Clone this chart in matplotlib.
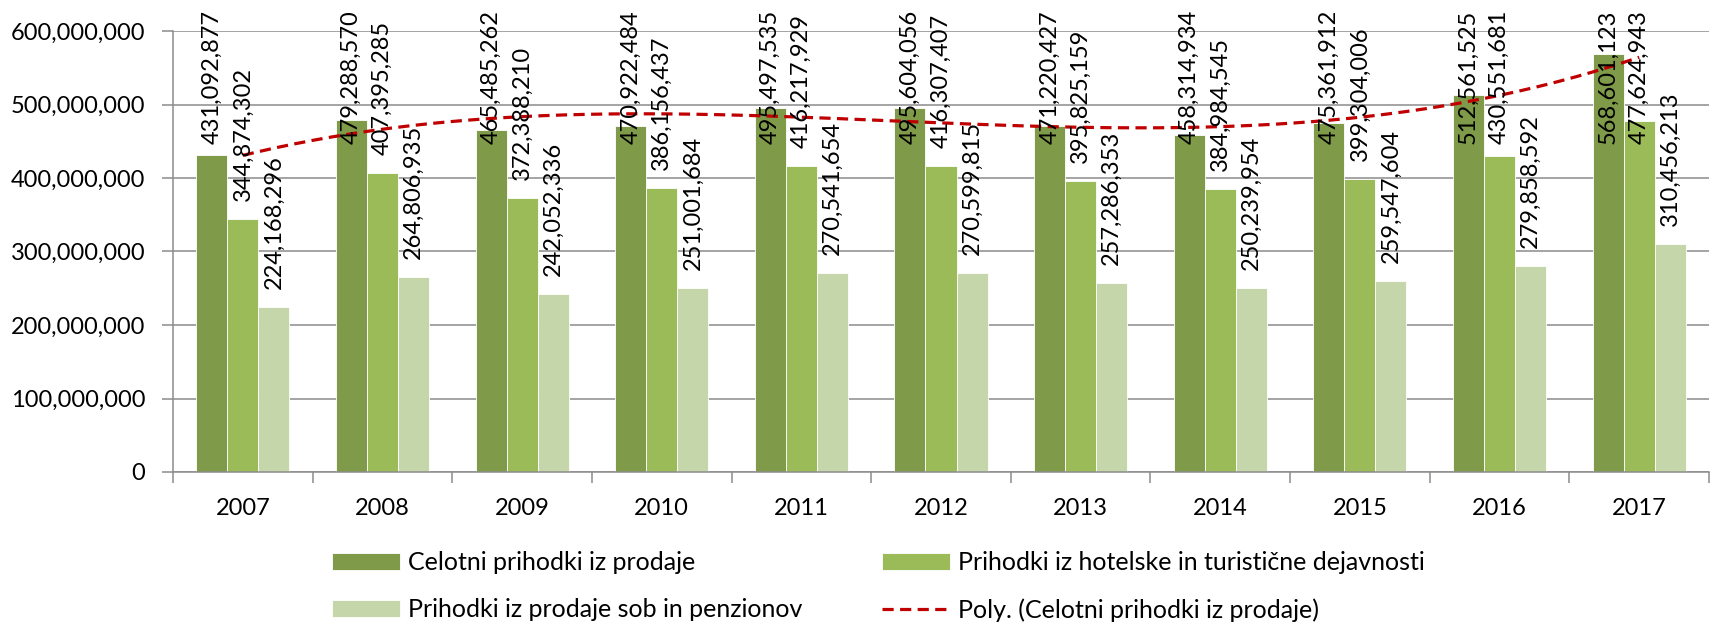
import numpy as np
import matplotlib
matplotlib.use('Agg')
import matplotlib.pyplot as plt
from matplotlib.ticker import FuncFormatter, MultipleLocator, FixedLocator

plt.rcParams['font.family'] = ['Lato', 'DejaVu Sans']

years = ['2007', '2008', '2009', '2010', '2011', '2012', '2013', '2014', '2015', '2016', '2017']
celotni = [431092877, 479288570, 465485262, 470922484, 495497535, 495604056,
           471220427, 458314934, 475361912, 512561525, 568601123]
hotelske = [344874302, 407395285, 372388210, 386156437, 416217929, 416307407,
            395825159, 384984545, 399304006, 430551681, 477624943]
sobe = [224168296, 264806935, 242052336, 251001684, 270541654, 270599815,
        257286353, 250239954, 259547604, 279858592, 310456213]

names = ['Celotni prihodki iz prodaje',
         'Prihodki iz hotelske in turistične dejavnosti',
         'Prihodki iz prodaje sob in penzionov']
trend_name = 'Poly. (Celotni prihodki iz prodaje)'
colors = ['#7F9A48', '#9BBB59', '#C6D6AB']

W, H = 1712, 624
fig = plt.figure(figsize=(W / 100, H / 100), dpi=100)
ax = fig.add_axes([173 / W, 1 - 472 / H, (1709 - 173) / W, (472 - 31) / H])

x = np.arange(len(years))
w = 1 / 4.5
FS = 17
labels = []
handles = []
for i, (vals, name, col) in enumerate(zip([celotni, hotelske, sobe], names, colors)):
    pos = x + (i - 1) * w
    b = ax.bar(pos, vals, w, color=col, label=name, zorder=2, linewidth=0.6, edgecolor='white')
    handles.append(b)
    for xi, v in zip(pos, vals):
        t = ax.annotate(f'{v:,}', (xi, v), xytext=(0, 18), textcoords='offset pixels',
                        rotation=90, ha='center', va='bottom', fontsize=FS, zorder=6,
                        annotation_clip=False, color='black')
        labels.append(t)

coef = np.polyfit(x, celotni, 3)
xs = np.linspace(x[0], x[-1], 300)
tl, = ax.plot(xs, np.polyval(coef, xs), color='#C00000', lw=2.3, ls=(0, (3.5, 2)), zorder=4,
              label=trend_name)

ax.set_xlim(-0.5, len(years) - 0.5)
ax.set_ylim(0, 600e6)
ax.yaxis.set_major_locator(MultipleLocator(1e8))
ax.yaxis.set_major_formatter(FuncFormatter(lambda v, p: f'{v:,.0f}'))
ax.grid(axis='y', color='#8C8C8C', lw=1.1, zorder=0)
ax.set_axisbelow(True)
for s in ['top', 'right']:
    ax.spines[s].set_visible(False)
for s in ['left', 'bottom']:
    ax.spines[s].set_color('#8C8C8C')
    ax.spines[s].set_linewidth(1.1)
ax.set_xticks(x)
ax.set_xticklabels(years)
ax.xaxis.set_minor_locator(FixedLocator(np.arange(-0.5, len(years), 1.0)))
ax.tick_params(axis='x', which='major', length=0, pad=19, labelsize=FS)
ax.tick_params(axis='x', which='minor', length=8, width=1.1, color='#8C8C8C')
ax.tick_params(axis='y', length=8, width=1.1, color='#8C8C8C', pad=12, labelsize=FS)

LFS = 18
fig.legend([handles[0], handles[2], handles[1], tl],
           [names[0], names[2], names[1], trend_name],
           ncol=2, loc='center', bbox_to_anchor=(0.513, 0.06), frameon=False,
           fontsize=LFS, handlelength=2.72, handletextpad=0.3, columnspacing=3.2,
           labelspacing=0.95)

fig.canvas.draw()
renderer = fig.canvas.get_renderer()
limit = H - 10
for t in labels:
    bb = t.get_window_extent(renderer)
    if bb.y1 > limit:
        t.xyann = (0, 18 - (bb.y1 - limit))

fig.savefig('out.png', dpi=100)
